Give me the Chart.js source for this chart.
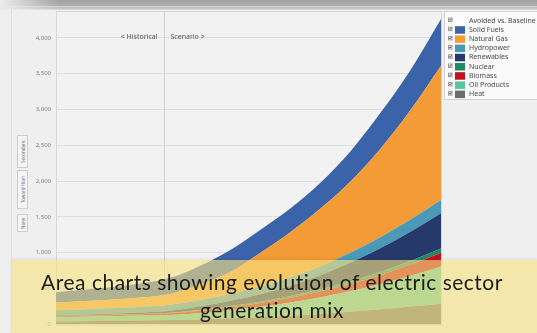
<!DOCTYPE html>
<html>
<head>
<meta charset="utf-8">
<script src="https://cdn.jsdelivr.net/npm/chart.js@4.4.1/dist/chart.umd.min.js"></script>
<style>
  html, body { margin: 0; padding: 0; background: #efefef; }
  #wrap { position: relative; width: 537px; height: 333px; overflow: hidden; background: #efefef; }
  #topbar { position: absolute; left: 0; top: 0; width: 537px; height: 10px;
    background: linear-gradient(#a0a0a0 0, #aeaeae 55%, #d0d0d0 65%, #b8b8b8 80%, #e6e6e6 100%); z-index: 2; }
  #topfade { position: absolute; left: 0; top: 0; width: 60px; height: 10px; z-index: 3;
    background: linear-gradient(90deg, #ececec, rgba(236,236,236,0)); }
  #leftline { position: absolute; left: 11px; top: 10px; width: 1px; height: 323px; background: #e2e2e2; z-index: 2; }
  canvas { position: absolute; left: 0; top: 0; }
  .btn { position: absolute; left: 17px; width: 9px; border: 1px solid #cdcdcd; background: #f5f5f5;
    font: 4.5px 'Noto Sans', sans-serif; color: #777; writing-mode: vertical-rl; transform: rotate(180deg);
    display: flex; align-items: center; justify-content: center; z-index: 2; white-space: nowrap; }
  #caption { position: absolute; left: 11px; top: 260px; width: 526px; height: 73px; z-index: 4;
    background: rgba(247, 226, 130, 0.62); box-shadow: 0 -1px 3px rgba(0,0,0,0.08);
    font: 21px Lato, 'Open Sans', sans-serif; letter-spacing: 0.5px; color: #1c1c1c; text-align: center;
    line-height: 28px; box-sizing: border-box; padding-top: 8px; padding-right: 4px; }
</style>
</head>
<body>
<div id="wrap">
  <canvas id="chart" width="537" height="333"></canvas>
  <div id="topbar"></div>
  <div id="topfade"></div>
  <div id="leftline"></div>
  <div class="btn" style="top:135px;height:31px;">Secondaric</div>
  <div class="btn" style="top:170px;height:37px;">Toward Hom</div>
  <div class="btn" style="top:214px;height:16px;">None</div>
  <div id="caption">Area charts showing evolution of electric sector<br>generation mix</div>
</div>
<script>
// Years of the series (historical up to 2018, scenario afterwards)
const years = [2000, 2004, 2009, 2014, 2019, 2024, 2029, 2034, 2039, 2044, 2049, 2054, 2059, 2064];
const tickYears = [2000, 2004, 2009, 2014, 2019, 2024, 2029, 2034, 2039, 2044, 2049, 2054, 2059];
const yTicks = [0, 500, 1000, 1500, 2000, 2500, 3000, 3500, 4000];
const scenarioStart = 2018;

// Generation by fuel (stacked, bottom to top)
const heat        = [40, 45, 50, 55, 60, 70, 85, 100, 120, 145, 175, 210, 250, 290];
const oilProducts = [60, 62, 65, 68, 72, 90, 115, 145, 185, 235, 290, 355, 430, 520];
const biomass     = [10, 12, 14, 17, 22, 30, 40, 52, 66, 82, 100, 125, 155, 190];
const nuclear     = [5, 5, 5, 6, 8, 12, 16, 20, 25, 30, 38, 45, 52, 60];
const renewables  = [10, 12, 15, 20, 30, 50, 75, 105, 145, 195, 260, 330, 410, 490];
const hydropower  = [70, 72, 75, 78, 82, 88, 95, 105, 115, 125, 140, 155, 170, 186];
const naturalGas  = [110, 115, 120, 130, 150, 220, 304, 473, 634, 808, 997, 1240, 1533, 1875];
const solidFuels  = [145, 157, 176, 196, 226, 260, 310, 320, 330, 360, 420, 500, 560, 653];
const avoided     = [0, 0, 0, 0, 0, 0, 0, 0, 0, 0, 0, 0, 0, 0];

const seriesNames  = ['Heat', 'Oil Products', 'Biomass', 'Nuclear', 'Renewables', 'Hydropower', 'Natural Gas', 'Solid Fuels', 'Avoided vs. Baseline'];
const seriesValues = [heat, oilProducts, biomass, nuclear, renewables, hydropower, naturalGas, solidFuels, avoided];
const seriesColors = ['#6d6d6d', '#5cc4a6', '#c4111b', '#1f8a68', '#26396b', '#4a9ab7', '#f39b36', '#3b63a9', '#ffffff'];

const datasets = seriesNames.map((name, i) => ({
  label: name,
  data: years.map((y, k) => ({ x: y, y: seriesValues[i][k] })),
  backgroundColor: seriesColors[i],
  borderColor: seriesColors[i],
  borderWidth: 0,
  pointRadius: 0,
  fill: i === 0 ? 'origin' : '-1',
  cubicInterpolationMode: 'monotone'
}));

const plotFrame = {
  id: 'plotFrame',
  beforeDraw(chart) {
    const { ctx, chartArea: a } = chart;
    ctx.save();
    ctx.fillStyle = '#f2f2f2';
    ctx.fillRect(a.left, a.top, a.right - a.left, a.bottom - a.top);
    ctx.strokeStyle = '#d6d6d6';
    ctx.lineWidth = 1;
    ctx.strokeRect(a.left + 0.5, a.top + 0.5, a.right - a.left, a.bottom - a.top);
    ctx.restore();
  },
  beforeDatasetsDraw(chart) {
    const { ctx, chartArea: a, scales } = chart;
    const x = Math.round(scales.x.getPixelForValue(scenarioStart)) + 0.5;
    ctx.save();
    ctx.strokeStyle = '#d0d0d0';
    ctx.lineWidth = 1;
    ctx.beginPath();
    ctx.moveTo(x, a.top);
    ctx.lineTo(x, a.bottom);
    ctx.stroke();
    ctx.font = '7px "Noto Sans", sans-serif';
    ctx.fillStyle = '#555';
    ctx.textBaseline = 'middle';
    const ty = scales.y.getPixelForValue(4000) - 1;
    ctx.textAlign = 'right';
    ctx.fillText('< Historical', x - 7, ty);
    ctx.textAlign = 'left';
    ctx.fillText('Scenario >', x + 6, ty);
    ctx.restore();
  },
  afterDraw(chart) {
    const { ctx } = chart;
    const ds = chart.data.datasets.slice().reverse();
    ctx.save();
    ctx.fillStyle = '#fafafa';
    ctx.fillRect(444, 11, 100, 88);
    ctx.strokeStyle = '#d3d3d3';
    ctx.lineWidth = 1;
    ctx.strokeRect(444.5, 11.5, 100, 88);
    ctx.font = '7px "Noto Sans", sans-serif';
    ctx.textBaseline = 'middle';
    ctx.textAlign = 'left';
    ds.forEach((d, i) => {
      const y = 20.5 + i * 9.2;
      ctx.strokeStyle = '#9a9a9a';
      ctx.fillStyle = '#ffffff';
      ctx.fillRect(448, y - 3, 4, 4);
      ctx.strokeRect(448.5, y - 2.5, 3.5, 3.5);
      ctx.strokeStyle = '#555';
      ctx.beginPath();
      ctx.moveTo(449, y - 1);
      ctx.lineTo(450, y);
      ctx.lineTo(451.5, y - 2);
      ctx.stroke();
      ctx.fillStyle = d.backgroundColor;
      ctx.fillRect(455, y - 3.5, 10, 7.5);
      ctx.fillStyle = '#4a4a4a';
      ctx.fillText(d.label, 469, y);
    });
    ctx.restore();
  }
};

new Chart(document.getElementById('chart'), {
  type: 'line',
  data: { datasets },
  options: {
    responsive: false,
    animation: false,
    layout: { padding: { top: 11, right: 96, left: 0, bottom: 0 } },
    plugins: { legend: { display: false }, tooltip: { enabled: false } },
    scales: {
      x: {
        type: 'linear', min: 2000, max: 2064,
        afterBuildTicks(scale) { scale.ticks = tickYears.map(v => ({ value: v })); },
        afterFit(scale) { scale.height = 8; },
        grid: { display: false },
        border: { display: false },
        ticks: { color: '#b8b8b8', font: { size: 5.5, family: 'Noto Sans' }, padding: 1, maxRotation: 0,
          callback: v => String(v) }
      },
      y: {
        stacked: true, min: 0, max: 4375,
        afterBuildTicks(scale) { scale.ticks = yTicks.map(v => ({ value: v })); },
        afterFit(scale) { scale.width = 56; },
        grid: { color: '#dedede', drawTicks: false },
        border: { display: false },
        ticks: { color: '#808080', font: { size: 6, family: 'Noto Sans' }, padding: 5,
          callback: v => v.toLocaleString('en-US') }
      }
    }
  },
  plugins: [plotFrame]
});
</script>
</body>
</html>
